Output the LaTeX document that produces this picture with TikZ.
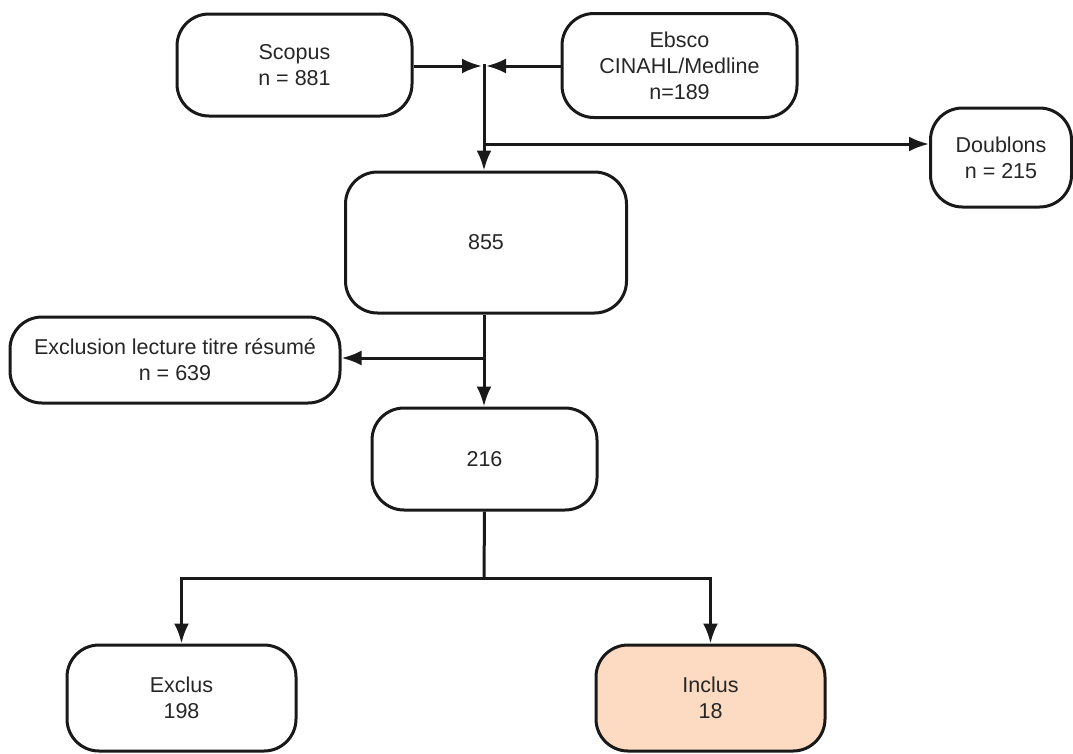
\documentclass[tikz,border=0pt]{standalone}
\usepackage{fontspec}
\setmainfont{Liberation Sans}
\usetikzlibrary{arrows.meta}
\definecolor{peach}{HTML}{FDDBC3}
\tikzset{
  boite/.style={draw=black!90, line width=3pt, rounded corners=32pt, align=center,
    inner sep=0pt, font=\fontsize{21.5}{26}\selectfont, text=black!85},
  fleche/.style={-{Latex[length=20pt,width=15pt]}, line width=3pt, draw=black!90},
  trait/.style={line width=3pt, draw=black!90}
}
\begin{document}
\begin{tikzpicture}[x=1pt,y=-1pt]
\useasboundingbox (0,0) rectangle (1073,753);

\node [boite, minimum width=235pt, minimum height=102pt] (scopus) at (294.5,65) {Scopus\\n = 881};
\node [boite, minimum width=235pt, minimum height=104pt] (ebsco) at (679.5,65.5) {Ebsco\\CINAHL/Medline\\n=189};
\node [boite, minimum width=141pt, minimum height=99pt] (doublons) at (1001,157.5) {Doublons\\n = 215};
\node [boite, minimum width=281pt, minimum height=141pt] (n855) at (486,242.5) {855};
\node [boite, minimum width=330pt, minimum height=86pt] (exclusion) at (175,360) {Exclusion lecture titre résumé\\n = 639};
\node [boite, minimum width=225pt, minimum height=102pt] (n216) at (484.5,459) {216};
\node [boite, minimum width=229pt, minimum height=106pt] (exclus) at (181.5,698) {Exclus\\198};
\node [boite, fill=peach, minimum width=229pt, minimum height=106pt] (inclus) at (710.5,698) {Inclus\\18};

\coordinate (jonction) at (484,66);
\coordinate (bifurque) at (484,144);
\coordinate (separe) at (484,358);
\coordinate (partage) at (484,578);

% fusion des deux bases
\draw [fleche] (scopus.east |- jonction) -- ([xshift=-2pt]jonction);
\draw [fleche] (ebsco.west |- jonction) -- ([xshift=2pt]jonction);
\draw [fleche] ([yshift=2pt]jonction) -- (jonction |- n855.north);
\draw [fleche] (bifurque) -- (doublons.west |- bifurque);

% lecture titre resume
\draw [fleche] (separe |- n855.south) -- (separe |- n216.north);
\draw [fleche] (separe) -- (exclusion.east |- separe);

% texte integral
\draw [trait] (n216.south) -- (partage);
\draw [fleche] (partage) -| (exclus.north);
\draw [fleche] (partage) -| (inclus.north);
\end{tikzpicture}
\end{document}
